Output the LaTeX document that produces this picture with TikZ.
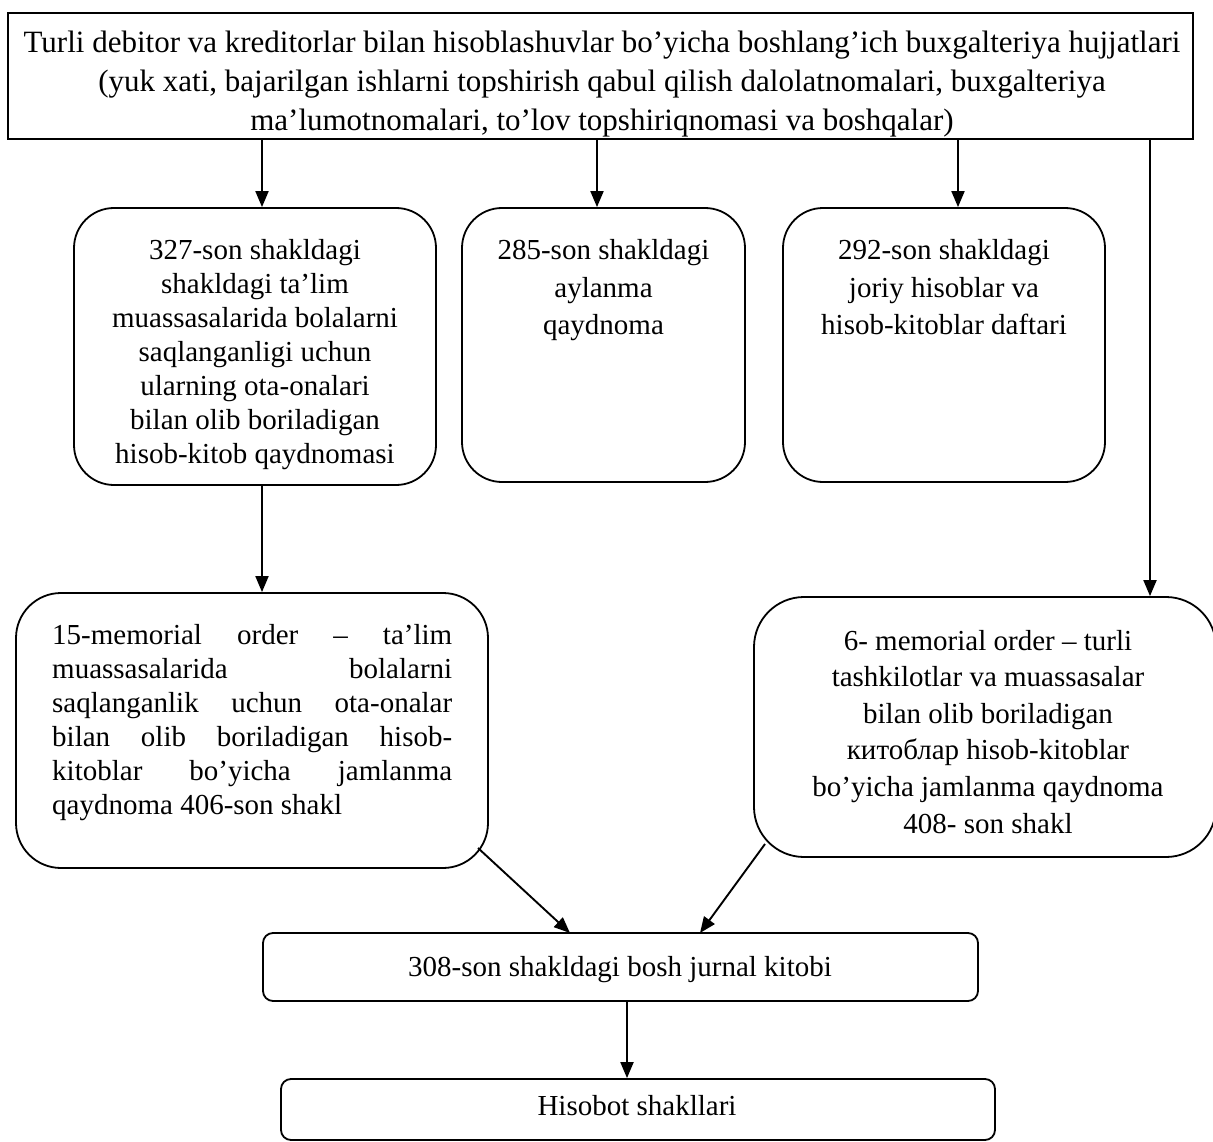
\documentclass[tikz,border=0pt]{standalone}
\usepackage{fontspec}
\setmainfont{Liberation Serif}
\usetikzlibrary{arrows.meta}

% centred lines, reference point on the first baseline
\newcommand{\clines}[1]{\vtop{\halign{\hfil##\hfil\cr#1\crcr}}}
% flush-left lines, reference point on the first baseline
\newcommand{\llines}[1]{\vtop{\halign{##\hfil\cr#1\crcr}}}
\newcommand{\jline}[1]{\makebox[400pt][s]{#1}}

\begin{document}
\begin{tikzpicture}[x=1pt,y=-1pt,
  frame/.style={draw, line width=1.4pt, inner sep=0pt},
  rbox/.style={draw, line width=1.8pt, inner sep=0pt, rounded corners=#1},
  rbox/.default=40pt,
  arr/.style={line width=1.9pt, -{Triangle[length=16pt,width=13pt]}},
  lbl/.style={inner sep=0pt, anchor=base},
  f29/.style={font=\fontsize{29}{34}\selectfont},
]
\useasboundingbox (0,0) rectangle (1213,1142);

% boxes
\node[frame, minimum width=1185pt, minimum height=126pt] (top) at (600.5,76) {};
\node[rbox=40pt, minimum width=362pt, minimum height=277pt] (A) at (255,346.5) {};
\node[rbox=40pt, minimum width=283pt, minimum height=274pt] (B) at (603.5,345) {};
\node[rbox=40pt, minimum width=322pt, minimum height=274pt] (C) at (944,345) {};
\node[rbox=45pt, minimum width=472pt, minimum height=275pt] (D) at (252,730.5) {};
\node[rbox=50pt, minimum width=462pt, minimum height=260pt] (E) at (985,727) {};
\node[rbox=10pt, minimum width=715pt, minimum height=68pt] (F) at (620.5,967) {};
\node[rbox=10pt, minimum width=714pt, minimum height=61pt] (G) at (638,1109.5) {};

% heading text, its last line cut off by the lower edge of the frame
\begin{scope}
  \clip (top.north west) rectangle ([yshift=3pt]top.south east);
  \node[lbl, font=\fontsize{31}{39}\selectfont] (toptxt) at (602,53) {\clines{%
    Turli debitor va kreditorlar bilan hisoblashuvlar bo’yicha boshlang’ich buxgalteriya hujjatlari\cr
    (yuk xati, bajarilgan ishlarni topshirish qabul qilish dalolatnomalari, buxgalteriya\cr
    ma’lumotnomalari, to’lov topshiriqnomasi va boshqalar)}};
\end{scope}
\node[frame, minimum width=1185pt, minimum height=126pt] at (top) {};

\node[lbl, f29] (Atxt) at (255,260) {\clines{%
  327-son shakldagi\cr shakldagi ta’lim\cr muassasalarida bolalarni\cr
  saqlanganligi uchun\cr ularning ota-onalari\cr bilan olib boriladigan\cr
  hisob-kitob qaydnomasi}};
\node[lbl, font=\fontsize{29}{37}\selectfont] (Btxt) at (603.5,260) {\clines{%
  285-son shakldagi\cr aylanma\cr qaydnoma}};
\node[lbl, font=\fontsize{29}{37}\selectfont] (Ctxt) at (944,260) {\clines{%
  292-son shakldagi\cr joriy hisoblar va\cr hisob-kitoblar daftari}};
\node[lbl, f29, anchor=base west] (Dtxt) at (52,644) {\llines{%
  \jline{15-memorial order – ta’lim}\cr
  \jline{muassasalarida bolalarni}\cr
  \jline{saqlanganlik uchun ota-onalar}\cr
  \jline{bilan olib boriladigan hisob-}\cr
  \jline{kitoblar bo’yicha jamlanma}\cr
  qaydnoma 406-son shakl}};
\node[lbl, font=\fontsize{29}{36.6}\selectfont] (Etxt) at (988,650) {\clines{%
  6- memorial order – turli\cr tashkilotlar va muassasalar\cr
  bilan olib boriladigan\cr китоблар hisob-kitoblar\cr
  bo’yicha jamlanma qaydnoma\cr 408- son shakl}};
\node[lbl, f29] (Ftxt) at (620,976) {308-son shakldagi bosh jurnal kitobi};
\node[lbl, f29] (Gtxt) at (637,1115) {Hisobot shakllari};

% connector end points
\coordinate (xa) at (262,0);
\coordinate (xb) at (597,0);
\coordinate (xc) at (958,0);
\coordinate (xe) at (1150,0);
\coordinate (xg) at (627,0);
\coordinate (dout) at (478,848);
\coordinate (fin1) at (570,933);
\coordinate (eout) at (765,844);
\coordinate (fin2) at (700,933);

% connectors
\draw[arr] (top.south -| xa) -- (A.north -| xa);
\draw[arr] (top.south -| xb) -- (B.north -| xb);
\draw[arr] (top.south -| xc) -- (C.north -| xc);
\draw[arr] (top.south -| xe) -- (E.north -| xe);
\draw[arr] (A.south -| xa) -- (D.north -| xa);
\draw[arr] (dout) -- (fin1);
\draw[arr] (eout) -- (fin2);
\draw[arr] (F.south -| xg) -- (G.north -| xg);
\end{tikzpicture}
\end{document}
